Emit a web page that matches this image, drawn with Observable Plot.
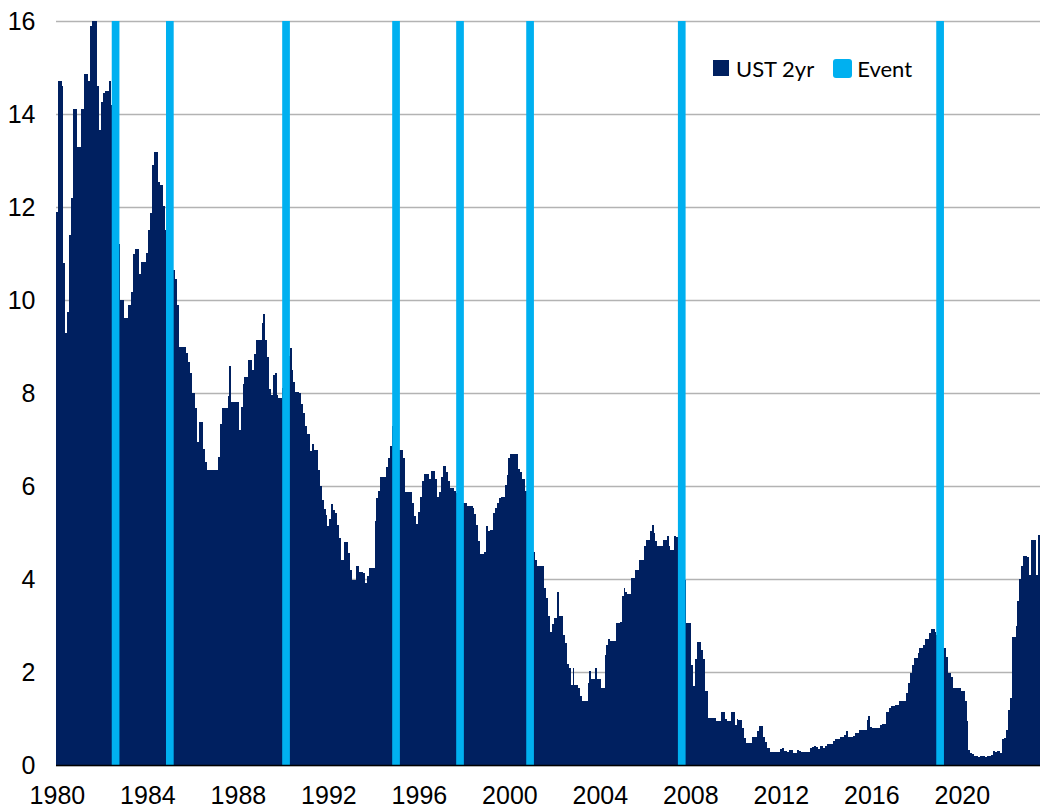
<!DOCTYPE html>
<html>
<head>
<meta charset="utf-8">
<script src="https://cdn.jsdelivr.net/npm/d3@7"></script>
<script src="https://cdn.jsdelivr.net/npm/@observablehq/plot@0.6"></script>
<style>
  html, body { margin: 0; padding: 0; background: #fff; }
  #wrap { position: relative; width: 1040px; height: 809px; }
  #legend {
    position: absolute; left: 713px; top: 57px; height: 22px;
    display: flex; align-items: center;
    font-family: Lato, "Open Sans", sans-serif; font-size: 22px; color: #000;
  }
  #legend .item { display: flex; align-items: center; }
  #legend .sw1 { width: 16px; height: 16px; background: #002060; margin-right: 7px; }
  #legend .sw2 { width: 19px; height: 19px; background: #00b0f0; border-radius: 3px; margin-right: 5px; margin-left: 19px; }
</style>
</head>
<body>
<div id="wrap">
  <div id="chart"></div>
  <div id="legend">
    <div class="item"><div class="sw1"></div><span>UST 2yr</span></div>
    <div class="item"><div class="sw2"></div><span>Event</span></div>
  </div>
</div>
<script>
// Monthly UST 2yr yield (%), Jan 1980 onwards (one row per year)
const startYear = 1980;
const ust2yr = [
  11.9, 14.7, 14.7, 14.6, 10.8, 9.3, 9.75, 11.4, 12.2, 14.1, 14.1, 13.3,      // 1980
  13.3, 14.1, 14.1, 14.85, 14.85, 14.7, 15.9, 16, 16, 16, 14.6, 13.65,        // 1981
  14.25, 14.46, 14.5, 14.5, 14.7, 14.2, 13.0, 12.0, 11.5, 11.2, 10.0, 10.0,   // 1982
  9.62, 9.62, 9.9, 9.9, 10.18, 10.98, 11.1, 11.1, 10.55, 10.82, 10.82, 10.82, // 1983
  11.02, 11.5, 11.88, 12.91, 13.18, 13.18, 12.54, 12.47, 12.47, 12.02, 11.5, 11.0, // 1984
  10.7, 10.6, 10.64, 10.46, 9.9, 9.0, 9.0, 9.0, 9.0, 8.87, 8.67, 8.44,        // 1985
  7.99, 7.99, 7.68, 6.95, 7.37, 7.37, 6.8, 6.52, 6.34, 6.34, 6.34, 6.34,      // 1986
  6.34, 6.34, 6.63, 7.33, 7.67, 7.67, 7.67, 7.94, 8.58, 7.8, 7.8, 7.8,        // 1987
  7.8, 7.2, 7.7, 8.19, 8.35, 8.35, 8.71, 8.71, 8.49, 8.84, 9.14, 9.14,        // 1988
  9.14, 9.5, 9.7, 9.14, 8.78, 8.08, 7.96, 8.39, 8.42, 7.95, 7.9, 7.9,         // 1989
  8.1, 8.3, 8.6, 8.8, 8.96, 8.49, 8.24, 8.03, 8.03, 8.0, 7.76, 7.56,          // 1990
  7.28, 7.12, 7.12, 6.76, 6.9, 6.78, 6.78, 6.35, 5.99, 5.7, 5.5, 5.38,        // 1991
  5.14, 5.3, 5.62, 5.49, 5.41, 5.16, 4.88, 4.41, 4.41, 4.79, 4.79, 4.56,      // 1992
  4.2, 3.98, 3.98, 4.27, 4.27, 4.14, 4.14, 4.12, 3.91, 4.06, 4.24, 4.24,      // 1993
  4.24, 5.24, 5.74, 5.9, 6.2, 6.2, 6.2, 6.4, 6.6, 6.86, 7.3, 7.5,             // 1994
  7.3, 7.0, 6.78, 6.78, 6.6, 5.88, 5.88, 5.88, 5.88, 5.63, 5.36, 5.19,        // 1995
  5.45, 5.77, 6.1, 6.26, 6.26, 6.26, 6.14, 6.33, 6.33, 6.14, 5.76, 5.88,      // 1996
  6.2, 6.42, 6.42, 6.3, 6.1, 5.96, 5.96, 5.9, 5.85, 5.8, 5.75, 5.7,           // 1997
  5.64, 5.64, 5.56, 5.56, 5.56, 5.52, 5.4, 5.17, 4.81, 4.54, 4.54, 4.59,      // 1998
  5.14, 5.04, 5.05, 5.05, 5.43, 5.52, 5.63, 5.74, 5.76, 5.76, 6.02, 6.24,     // 1999
  6.6, 6.68, 6.68, 6.68, 6.68, 6.36, 6.3, 6.14, 6.14, 5.9, 5.6, 5.2,          // 2000
  4.9, 4.59, 4.41, 4.28, 4.28, 4.28, 4.28, 3.81, 3.6, 3.2, 2.87, 3.04,        // 2001
  3.16, 3.16, 3.73, 3.2, 3.2, 2.8, 2.62, 2.18, 2.09, 1.71, 2.09, 1.71,        // 2002
  1.71, 1.66, 1.49, 1.37, 1.37, 1.37, 1.77, 2.02, 1.84, 1.84, 2.09, 1.84,     // 2003
  1.84, 1.66, 1.66, 2.37, 2.59, 2.7, 2.67, 2.67, 2.67, 3.05, 3.05, 3.08,      // 2004
  3.63, 3.8, 3.71, 3.68, 3.68, 4.02, 4.02, 4.2, 4.2, 4.41, 4.41, 4.41,        // 2005
  4.71, 4.83, 4.83, 5.04, 5.17, 4.99, 4.81, 4.71, 4.71, 4.71, 4.83, 4.83,     // 2006
  4.93, 4.71, 4.63, 4.63, 4.92, 4.9, 4.56, 4.15, 3.97, 3.98, 3.05, 3.05,      // 2007
  3.06, 2.16, 1.69, 2.27, 2.64, 2.64, 2.48, 2.27, 1.59, 1.59, 1.01, 1.01,     // 2008
  1.01, 1.01, 0.94, 0.94, 0.94, 1.13, 1.13, 0.99, 0.95, 0.95, 1.13, 1.13,     // 2009
  0.87, 1.0, 0.97, 0.97, 0.8, 0.58, 0.47, 0.47, 0.47, 0.6, 0.6, 0.6,          // 2010
  0.73, 0.83, 0.83, 0.6, 0.5, 0.37, 0.37, 0.27, 0.27, 0.27, 0.27, 0.27,       // 2011
  0.34, 0.37, 0.31, 0.31, 0.27, 0.33, 0.33, 0.26, 0.26, 0.33, 0.3, 0.27,      // 2012
  0.27, 0.27, 0.27, 0.27, 0.36, 0.38, 0.41, 0.38, 0.34, 0.41, 0.4, 0.36,      // 2013
  0.41, 0.45, 0.45, 0.45, 0.51, 0.56, 0.56, 0.56, 0.6, 0.6, 0.65, 0.73,       // 2014
  0.6, 0.6, 0.6, 0.63, 0.68, 0.68, 0.75, 0.75, 0.75, 0.75, 0.97, 1.06,        // 2015
  0.82, 0.8, 0.8, 0.8, 0.8, 0.87, 0.88, 0.88, 1.13, 1.13, 1.23, 1.27,         // 2016
  1.27, 1.3, 1.3, 1.37, 1.37, 1.37, 1.37, 1.55, 1.77, 1.97, 2.16, 2.3,        // 2017
  2.3, 2.4, 2.52, 2.52, 2.57, 2.7, 2.7, 2.84, 2.93, 2.93, 2.85, 2.8,          // 2018
  2.7, 2.55, 2.52, 2.52, 2.33, 1.97, 1.97, 1.9, 1.66, 1.66, 1.66, 1.66,       // 2019
  1.6, 1.6, 1.37, 0.94, 0.32, 0.26, 0.23, 0.19, 0.2, 0.18, 0.19, 0.2,         // 2020
  0.19, 0.18, 0.19, 0.2, 0.21, 0.3, 0.27, 0.3, 0.3, 0.26, 0.55, 0.58,         // 2021
  0.76, 1.19, 1.44, 2.75, 2.75, 3.0, 3.52, 4.0, 4.28, 4.5, 4.5, 4.47,         // 2022
  4.09, 4.84, 4.84, 4.84, 4.09, 4.95                                          // 2023
];

// Event dates (vertical markers)
const eventDates = [
  "1982-08-12", "1985-01-04", "1990-02-23", "1995-01-04",
  "1997-11-02", "2000-12-07", "2007-08-22", "2019-01-22"
];

// Axis ticks
const tickYears = [1980, 1984, 1988, 1992, 1996, 2000, 2004, 2008, 2012, 2016, 2020];
const yTicks = [0, 2, 4, 6, 8, 10, 12, 14, 16];

const data = ust2yr.map((v, i) => ({
  start: new Date(Date.UTC(startYear, i, 1)),
  end: new Date(Date.UTC(startYear, i + 1, 1)),
  value: v
}));
const events = eventDates.map(d => new Date(d + "T00:00:00Z"));
const xDomain = [data[0].start, data[data.length - 1].end];

const chart = Plot.plot({
  width: 1040,
  height: 809,
  marginLeft: 56,
  marginRight: 0,
  marginTop: 21,
  marginBottom: 44,
  style: {
    fontFamily: "'Liberation Sans Narrow', 'Arial Narrow', 'Liberation Sans', sans-serif",
    fontSize: "25px",
    color: "#000",
    background: "#fff",
    overflow: "visible"
  },
  x: {
    type: "utc",
    domain: xDomain,
    ticks: tickYears.map(y => new Date(Date.UTC(y, 0, 16))),
    tickFormat: d => String(d.getUTCFullYear()),
    tickSize: 0,
    tickPadding: 21,
    label: null
  },
  y: {
    domain: [0, 16],
    ticks: yTicks,
    tickSize: 0,
    tickPadding: 21,
    label: null
  },
  marks: [
    Plot.gridY(yTicks, {stroke: "#b3b3b3", strokeOpacity: 1, strokeWidth: 1.3}),
    Plot.rectY(data, {x1: "start", x2: "end", y: "value", fill: "#002060", shapeRendering: "crispEdges"}),
    Plot.ruleX(events, {x: d => d, y1: 0, y2: 16, stroke: "#00b0f0", strokeWidth: 7.7}),
    Plot.ruleY([0], {stroke: "#000", strokeWidth: 1.5})
  ]
});
document.getElementById("chart").appendChild(chart);
</script>
</body>
</html>
